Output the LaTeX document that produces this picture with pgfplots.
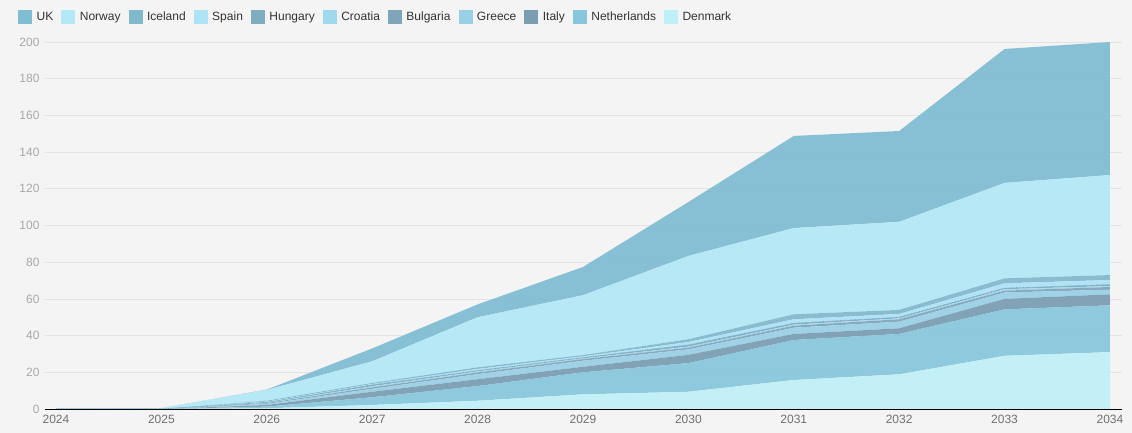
\documentclass[border=0pt]{standalone}
\usepackage{fontspec}
\setmainfont{Liberation Sans}
\usepackage{pgfplots}
\pgfplotsset{compat=1.18}
\definecolor{bg}{HTML}{F4F4F4}
\definecolor{gridc}{HTML}{E3E3E3}
\definecolor{ytc}{HTML}{A8A8A8}
\definecolor{xtc}{HTML}{707070}
\definecolor{legtext}{HTML}{333333}
\definecolor{cUK}{HTML}{7FBDD3}
\definecolor{cNorway}{HTML}{B3E8F6}
\definecolor{cIceland}{HTML}{80B8CC}
\definecolor{cSpain}{HTML}{AEE2F5}
\definecolor{cHungary}{HTML}{7EADC2}
\definecolor{cCroatia}{HTML}{A0D8EE}
\definecolor{cBulgaria}{HTML}{7FA5B9}
\definecolor{cGreece}{HTML}{99D0E6}
\definecolor{cItaly}{HTML}{7A9DB2}
\definecolor{cNetherlands}{HTML}{88C6DC}
\definecolor{cDenmark}{HTML}{BFF0F7}
\definecolor{dotc}{HTML}{3F8FB8}
\begin{document}
\begin{tikzpicture}
\fill[bg] (-45pt,-24pt) rectangle (1087pt,409pt);
\begin{axis}[
  at={(0,0)}, anchor=south west,
  width=1077pt, height=367pt, scale only axis,
  xmin=2023.8956, xmax=2034.114, ymin=0, ymax=200,
  axis x line*=bottom, axis y line*=left,
  x axis line style={black, line width=0.9pt},
  y axis line style={draw=none},
  xtick={2024,2025,...,2034}, ytick={0,20,...,200},
  major tick length=0pt,
  ymajorgrids, grid style={color=gridc, line width=0.6pt},
  /pgf/number format/.cd, 1000 sep={}, assume math mode=true, /pgfplots/.cd,
  xticklabel style={font=\fontsize{12}{14}\selectfont, text=xtc, yshift=-3pt},
  yticklabel style={font=\fontsize{12}{14}\selectfont, text=ytc, xshift=-2pt},
  stack plots=y,
  reverse legend,
  legend columns=-1,
  legend style={draw=none, fill=none, at={(0,1)}, anchor=west, xshift=-27pt, yshift=25pt,
    font=\fontsize{12}{14}\selectfont, text=legtext, inner sep=0pt,
    /tikz/every odd column/.append style={column sep=3pt},
    /tikz/every even column/.append style={column sep=6.5pt},
    nodes={inner sep=1.5pt}},
  legend image code/.code={\fill[#1,draw=none,fill opacity=1] (0pt,-7pt) rectangle (14pt,7pt);},
]
\addplot[fill=cDenmark, draw=none, fill opacity=0.93] coordinates {(2024,0) (2025,0) (2026,0.4) (2027,2.2) (2028,4.5) (2029,8) (2030,9.4) (2031,15.8) (2032,18.9) (2033,29) (2034,31)} \closedcycle;
\addlegendentry{Denmark}
\addplot[fill=cNetherlands, draw=none, fill opacity=0.93] coordinates {(2024,0) (2025,0) (2026,0.9) (2027,4.2) (2028,8.0) (2029,12) (2030,15.6) (2031,21.8) (2032,22) (2033,25.3) (2034,25.5)} \closedcycle;
\addlegendentry{Netherlands}
\addplot[fill=cItaly, draw=none, fill opacity=0.93] coordinates {(2024,0) (2025,0) (2026,0.9) (2027,3.0) (2028,3.7) (2029,3) (2030,4.5) (2031,3.3) (2032,3.1) (2033,5.7) (2034,6)} \closedcycle;
\addlegendentry{Italy}
\addplot[fill=cGreece, draw=none, fill opacity=0.93] coordinates {(2024,0) (2025,0) (2026,0.6) (2027,1.6) (2028,2.8) (2029,3.3) (2030,3.0) (2031,3.4) (2032,3.6) (2033,3.5) (2034,2.5)} \closedcycle;
\addlegendentry{Greece}
\addplot[fill=cBulgaria, draw=none, fill opacity=0.93] coordinates {(2024,0) (2025,0) (2026,0.4) (2027,0.8) (2028,0.9) (2029,0.9) (2030,0.9) (2031,1.1) (2032,1.3) (2033,1) (2034,1.5)} \closedcycle;
\addlegendentry{Bulgaria}
\addplot[fill=cCroatia, draw=none, fill opacity=0.93] coordinates {(2024,0) (2025,0) (2026,0.2) (2027,0.6) (2028,0.6) (2029,0.4) (2030,0.6) (2031,0.6) (2032,0.5) (2033,0.8) (2034,0.5)} \closedcycle;
\addlegendentry{Croatia}
\addplot[fill=cHungary, draw=none, fill opacity=0.93] coordinates {(2024,0) (2025,0) (2026,0.2) (2027,0.7) (2028,0.4) (2029,0.4) (2030,0.9) (2031,0.7) (2032,0.6) (2033,0.5) (2034,0.8)} \closedcycle;
\addlegendentry{Hungary}
\addplot[draw=dotc, densely dotted, line width=0.7pt, forget plot] coordinates {(2024,0) (2025,0) (2026,0) (2027,0) (2028,0) (2029,0) (2030,0) (2031,0) (2032,0) (2033,0) (2034,0)};
\addplot[fill=cSpain, draw=none, fill opacity=0.93] coordinates {(2024,0) (2025,0) (2026,0.4) (2027,0.5) (2028,0.9) (2029,0.7) (2030,1.6) (2031,2.2) (2032,1.8) (2033,2.7) (2034,2.5)} \closedcycle;
\addlegendentry{Spain}
\addplot[fill=cIceland, draw=none, fill opacity=0.93] coordinates {(2024,0) (2025,0) (2026,0.5) (2027,0.6) (2028,0.9) (2029,0.7) (2030,1.5) (2031,2.7) (2032,2.2) (2033,2.7) (2034,2.7)} \closedcycle;
\addlegendentry{Iceland}
\addplot[fill=cNorway, draw=none, fill opacity=0.93] coordinates {(2024,0) (2025,0.5) (2026,5.9) (2027,11.8) (2028,27.3) (2029,32.6) (2030,45.4) (2031,47) (2032,48) (2033,52) (2034,54.5)} \closedcycle;
\addlegendentry{Norway}
\addplot[fill=cUK, draw=none, fill opacity=0.93] coordinates {(2024,0) (2025,0) (2026,0.2) (2027,7) (2028,7) (2029,15.4) (2030,29.4) (2031,50.2) (2032,49.5) (2033,73) (2034,72.5)} \closedcycle;
\addlegendentry{UK}
\end{axis}
\end{tikzpicture}
\end{document}
